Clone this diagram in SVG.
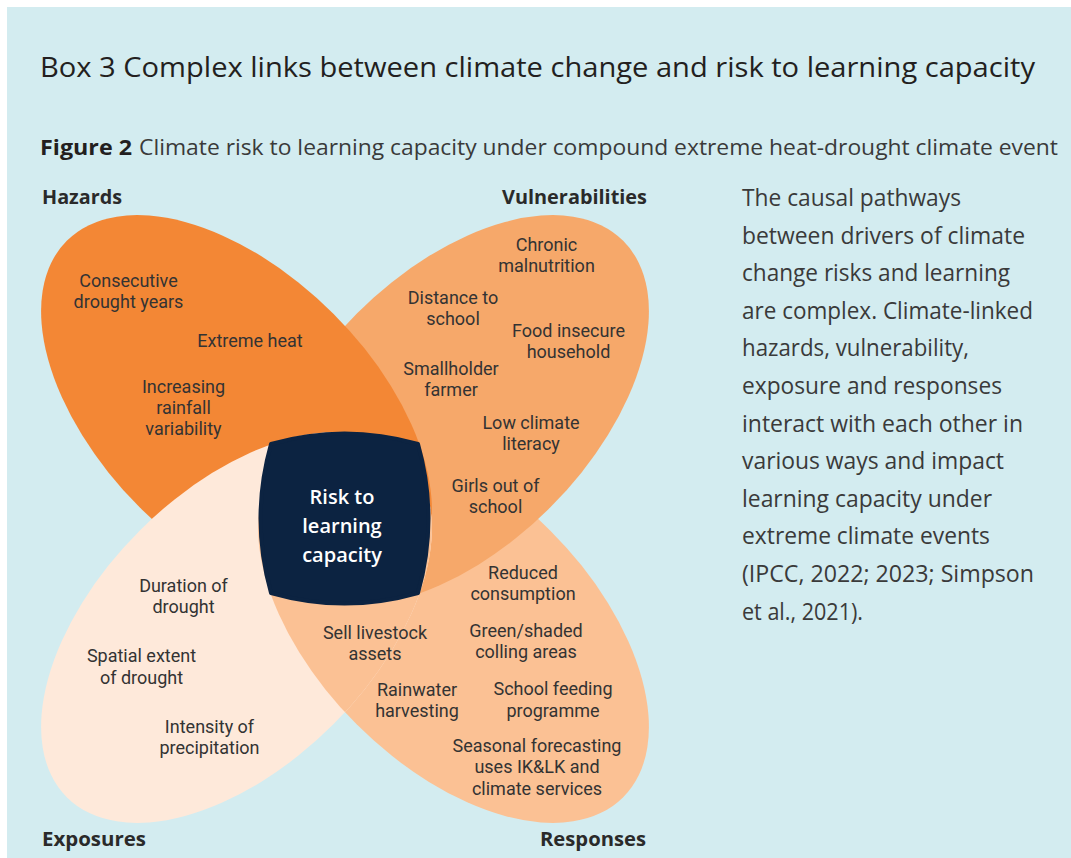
<svg xmlns="http://www.w3.org/2000/svg" width="1071" height="858" viewBox="0 0 1071 858">
<style>
.title{font-family:"Open Sans","Liberation Sans",sans-serif;font-size:28px;fill:#231f20}
.fig{font-family:"Open Sans","Liberation Sans",sans-serif;font-size:22px;fill:#3a3a3a}
.figb{font-weight:700;fill:#231f20}
.cat{font-family:"Open Sans","Liberation Sans",sans-serif;font-size:19px;font-weight:700;fill:#2a2a2a}
.lbl{font-family:Roboto,"Open Sans","Liberation Sans",sans-serif;font-size:18px;fill:#333333;text-anchor:middle}
.ctr{font-family:"Open Sans","Liberation Sans",sans-serif;font-size:20px;font-weight:600;fill:#ffffff;text-anchor:middle}
.body{font-family:"Open Sans","Liberation Sans",sans-serif;font-size:24px;fill:#3a3a3a}
</style>
<defs>
<clipPath id="expClip">
<ellipse cx="0" cy="0" rx="240" ry="137" transform="translate(236.5,627.5) rotate(-45)"/>
</clipPath>
</defs>
<rect x="0" y="0" width="1071" height="858" fill="#ffffff"/>
<rect x="7" y="7" width="1064" height="851" fill="#d3ecf0"/>
<text class="title" x="40" y="77" textLength="995" lengthAdjust="spacingAndGlyphs">Box 3 Complex links between climate change and risk to learning capacity</text>
<text class="fig figb" x="40" y="155" textLength="92" lengthAdjust="spacingAndGlyphs">Figure 2</text>
<text class="fig" x="139" y="155" textLength="919" lengthAdjust="spacingAndGlyphs">Climate risk to learning capacity under compound extreme heat-drought climate event</text>

<g id="petals">
<ellipse id="responses-petal" cx="0" cy="0" rx="240" ry="137" transform="translate(453.5,627.5) rotate(45)" fill="#fbc194"/>
<ellipse id="vulnerabilities-petal" cx="0" cy="0" rx="240" ry="137" transform="translate(453.5,410.5) rotate(-45)" fill="#f6a86a"/>
<ellipse id="hazards-petal" cx="0" cy="0" rx="240" ry="137" transform="translate(236.5,410.5) rotate(45)" fill="#f38735"/>
<ellipse id="exposures-petal" cx="0" cy="0" rx="240" ry="137" transform="translate(236.5,627.5) rotate(-45)" fill="#fee9da"/>
<g clip-path="url(#expClip)">
<ellipse cx="0" cy="0" rx="240" ry="137" transform="translate(453.5,627.5) rotate(45)" fill="#fbc194"/>
</g>
</g>

<g id="center">
<path d="M271,444 Q344.5,423 418,444 Q439,518.5 418,593 Q344.5,614 271,593 Q250,518.5 271,444 Z" fill="#0c2341" stroke="#0c2341" stroke-width="4" stroke-linejoin="round"/>
<text class="ctr" x="342" y="504">Risk to</text>
<text class="ctr" x="342" y="533">learning</text>
<text class="ctr" x="342" y="562">capacity</text>
</g>

<g id="hazards">
<text class="cat" x="42" y="204" textLength="80" lengthAdjust="spacingAndGlyphs">Hazards</text>
<text class="lbl" x="128.5" y="286.75">Consecutive</text>
<text class="lbl" x="128.5" y="307.85">drought years</text>
<text class="lbl" x="250" y="346.5">Extreme heat</text>
<text class="lbl" x="183.5" y="392.5">Increasing</text>
<text class="lbl" x="183.5" y="413.6">rainfall</text>
<text class="lbl" x="183.5" y="434.7">variability</text>
</g>

<g id="vulnerabilities">
<text class="cat" x="502" y="204" textLength="145" lengthAdjust="spacingAndGlyphs">Vulnerabilities</text>
<text class="lbl" x="546.5" y="251.25">Chronic</text>
<text class="lbl" x="546.5" y="272.35">malnutrition</text>
<text class="lbl" x="453" y="303.95">Distance to</text>
<text class="lbl" x="453" y="325.05">school</text>
<text class="lbl" x="568.5" y="336.75">Food insecure</text>
<text class="lbl" x="568.5" y="357.85">household</text>
<text class="lbl" x="451" y="374.75">Smallholder</text>
<text class="lbl" x="451" y="395.85">farmer</text>
<text class="lbl" x="531" y="428.75">Low climate</text>
<text class="lbl" x="531" y="449.85">literacy</text>
<text class="lbl" x="495.5" y="492.25">Girls out of</text>
<text class="lbl" x="495.5" y="513.35">school</text>
</g>

<g id="exposures">
<text class="cat" x="42" y="846" textLength="104" lengthAdjust="spacingAndGlyphs">Exposures</text>
<text class="lbl" x="183.5" y="592.25">Duration of</text>
<text class="lbl" x="183.5" y="613.35">drought</text>
<text class="lbl" x="141.5" y="662.45">Spatial extent</text>
<text class="lbl" x="141.5" y="683.55">of drought</text>
<text class="lbl" x="209.5" y="732.95">Intensity of</text>
<text class="lbl" x="209.5" y="754.05">precipitation</text>
</g>

<g id="responses">
<text class="cat" x="540" y="846" textLength="106" lengthAdjust="spacingAndGlyphs">Responses</text>
<text class="lbl" x="523" y="578.75">Reduced</text>
<text class="lbl" x="523" y="599.85">consumption</text>
<text class="lbl" x="375" y="638.75">Sell livestock</text>
<text class="lbl" x="375" y="659.85">assets</text>
<text class="lbl" x="526" y="636.95">Green/shaded</text>
<text class="lbl" x="526" y="658.05">colling areas</text>
<text class="lbl" x="417" y="695.75">Rainwater</text>
<text class="lbl" x="417" y="716.85">harvesting</text>
<text class="lbl" x="553" y="695.45">School feeding</text>
<text class="lbl" x="553" y="716.55">programme</text>
<text class="lbl" x="537" y="752.3">Seasonal forecasting</text>
<text class="lbl" x="537" y="773.4">uses IK&amp;LK and</text>
<text class="lbl" x="537" y="794.5">climate services</text>
</g>

<g id="description">
<text class="body" x="742" y="206" textLength="219" lengthAdjust="spacingAndGlyphs">The causal pathways</text>
<text class="body" x="742" y="243.6" textLength="283" lengthAdjust="spacingAndGlyphs">between drivers of climate</text>
<text class="body" x="742" y="281.2" textLength="268" lengthAdjust="spacingAndGlyphs">change risks and learning</text>
<text class="body" x="742" y="318.8" textLength="291" lengthAdjust="spacingAndGlyphs">are complex. Climate-linked</text>
<text class="body" x="742" y="356.4" textLength="227" lengthAdjust="spacingAndGlyphs">hazards, vulnerability,</text>
<text class="body" x="742" y="394" textLength="260" lengthAdjust="spacingAndGlyphs">exposure and responses</text>
<text class="body" x="742" y="431.6" textLength="281" lengthAdjust="spacingAndGlyphs">interact with each other in</text>
<text class="body" x="742" y="469.2" textLength="262" lengthAdjust="spacingAndGlyphs">various ways and impact</text>
<text class="body" x="742" y="506.8" textLength="250" lengthAdjust="spacingAndGlyphs">learning capacity under</text>
<text class="body" x="742" y="544.4" textLength="248" lengthAdjust="spacingAndGlyphs">extreme climate events</text>
<text class="body" x="742" y="582" textLength="292" lengthAdjust="spacingAndGlyphs">(IPCC, 2022; 2023; Simpson</text>
<text class="body" x="742" y="619.6" textLength="121" lengthAdjust="spacingAndGlyphs">et al., 2021).</text>
</g>
</svg>
